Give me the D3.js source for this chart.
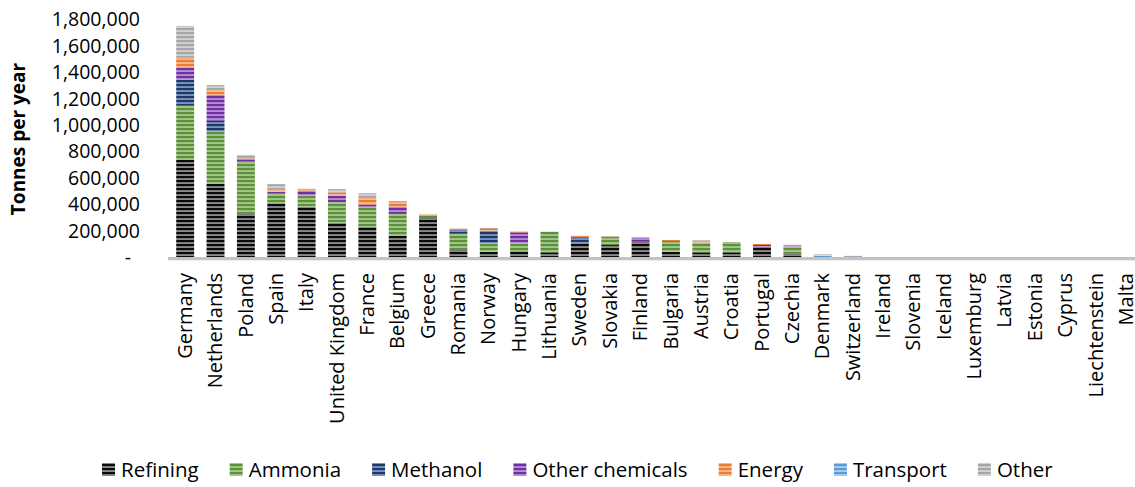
<!DOCTYPE html>
<html>
<head>
<meta charset="utf-8">
<script src="https://cdn.jsdelivr.net/npm/d3@7"></script>
<style>
  html, body { margin: 0; padding: 0; background: #ffffff; }
  svg { display: block; }
  text { font-family: "Open Sans", "Liberation Sans", sans-serif; fill: #000; }
</style>
</head>
<body>
<svg id="chart" width="1135" height="487"></svg>
<script>
const countries = ["Germany","Netherlands","Poland","Spain","Italy","United Kingdom","France","Belgium","Greece","Romania","Norway","Hungary","Lithuania","Sweden","Slovakia","Finland","Bulgaria","Austria","Croatia","Portugal","Czechia","Denmark","Switzerland","Ireland","Slovenia","Iceland","Luxemburg","Latvia","Estonia","Cyprus","Liechtenstein","Malta"];

const seriesNames = ["Refining","Ammonia","Methanol","Other chemicals","Energy","Transport","Other"];

const refining       = [735000,554000,327000,408000,382000,261000,230000,160000,300000,54000,41000,45000,36000,109000,91000,117000,41000,36000,36000,79000,26000,0,0,0,0,0,0,0,0,0,0,0];
const ammonia        = [411000,396000,396000,76000,83000,155000,144000,167000,18000,123000,64000,63000,156000,0,61000,0,81000,73000,78000,0,45000,0,0,0,0,0,0,0,0,0,0,0];
const methanol       = [200000,83000,0,0,0,0,0,0,0,30000,95000,0,0,40000,0,0,0,0,0,0,0,0,0,0,0,0,0,0,0,0,0,0];
const otherChemicals = [91000,195000,23000,12000,36000,50000,23000,55000,0,0,0,79000,0,5000,0,30000,0,0,0,13000,11000,0,4000,0,0,0,0,0,0,0,0,0];
const energy         = [73000,36000,10000,13000,11000,23000,56000,41000,6000,8000,18000,8000,0,8000,3000,0,8000,9000,0,8000,0,0,0,0,0,0,0,0,0,0,0,0];
const transport      = [0,0,0,0,0,0,0,0,0,0,3000,0,0,0,0,0,0,0,0,0,0,12000,0,0,0,0,0,0,0,0,0,0];
const other          = [240000,38000,18000,43000,5000,26000,30000,0,0,0,0,0,0,0,3000,3000,0,9000,0,0,11000,11000,6000,0,0,0,0,0,0,0,0,0];

const yTicks = [0,200000,400000,600000,800000,1000000,1200000,1400000,1600000,1800000];
const yTitle = "Tonnes per year";

const seriesValues = [refining, ammonia, methanol, otherChemicals, energy, transport, other];
const palette = [
  ["#0a0a0a","#a8a8a8"],
  ["#5e8f3c","#b3d59b"],
  ["#1f3864","#8faadc"],
  ["#7030a0","#c7a3e6"],
  ["#ed7d31","#f9c8a6"],
  ["#5b9bd5","#c0daf2"],
  ["#a5a5a5","#dcdcdc"]
];

const rows = countries.map((c, i) => {
  const r = {country: c};
  seriesNames.forEach((s, k) => r[s] = seriesValues[k][i]);
  return r;
});

const svg = d3.select("#chart");
const defs = svg.append("defs");
palette.forEach((p, k) => {
  const pat = defs.append("pattern")
    .attr("id", "pat" + k)
    .attr("patternUnits", "userSpaceOnUse")
    .attr("width", 8).attr("height", 4);
  pat.append("rect").attr("width", 8).attr("height", 4).attr("fill", p[0]);
  pat.append("rect").attr("y", 2.3).attr("width", 8).attr("height", 1.5).attr("fill", p[1]);
});

const x = d3.scaleBand().domain(countries).range([170, 1141.5]).paddingInner(0.41).paddingOuter(0.205);
const y = d3.scaleLinear().domain([0, 1800000]).range([257.1, 19.3]);

const stack = d3.stack().keys(seriesNames);
const stacked = stack(rows);

svg.append("g").selectAll("g")
  .data(stacked)
  .join("g")
  .attr("fill", (d, k) => "url(#pat" + k + ")")
  .selectAll("rect")
  .data(d => d)
  .join("rect")
  .attr("x", d => x(d.data.country))
  .attr("width", x.bandwidth())
  .attr("y", d => y(d[1]))
  .attr("height", d => Math.max(0, y(d[0]) - y(d[1])));

// baseline
svg.append("line")
  .attr("x1", 168).attr("x2", 1135)
  .attr("y1", y(0) + 1.6).attr("y2", y(0) + 1.6)
  .attr("stroke", "#c3c3c3").attr("stroke-width", 3.2);

// y tick labels
const fmt = d3.format(",");
svg.append("g").selectAll("text")
  .data(yTicks)
  .join("text")
  .attr("x", d => d === 0 ? 131 : 140)
  .attr("y", d => y(d))
  .attr("dy", "0.36em")
  .attr("text-anchor", "end")
  .style("font-size", "19.5px")
  .text(d => d === 0 ? "-" : fmt(d));

// y title
svg.append("text")
  .attr("transform", "translate(25,139) rotate(-90)")
  .attr("text-anchor", "middle")
  .style("font-size", "19px")
  .style("font-weight", "bold")
  .text(yTitle);

// x labels
svg.append("g").selectAll("text")
  .data(countries)
  .join("text")
  .attr("transform", d => "translate(" + (x(d) + x.bandwidth() / 2) + ",273) rotate(-90)")
  .attr("dy", "0.33em")
  .attr("text-anchor", "end")
  .style("font-size", "20px")
  .text(d => d);

// legend
const leg = svg.append("g");
let lx = 102;
seriesNames.forEach((s, k) => {
  leg.append("rect")
    .attr("x", lx).attr("y", 463)
    .attr("width", 13).attr("height", 13)
    .attr("fill", "url(#pat" + k + ")");
  const t = leg.append("text")
    .attr("x", lx + 19).attr("y", 469.5)
    .attr("dy", "0.36em")
    .style("font-size", "20.5px")
    .text(s);
  lx = lx + 19 + t.node().getComputedTextLength() + 31;
});
</script>
</body>
</html>
